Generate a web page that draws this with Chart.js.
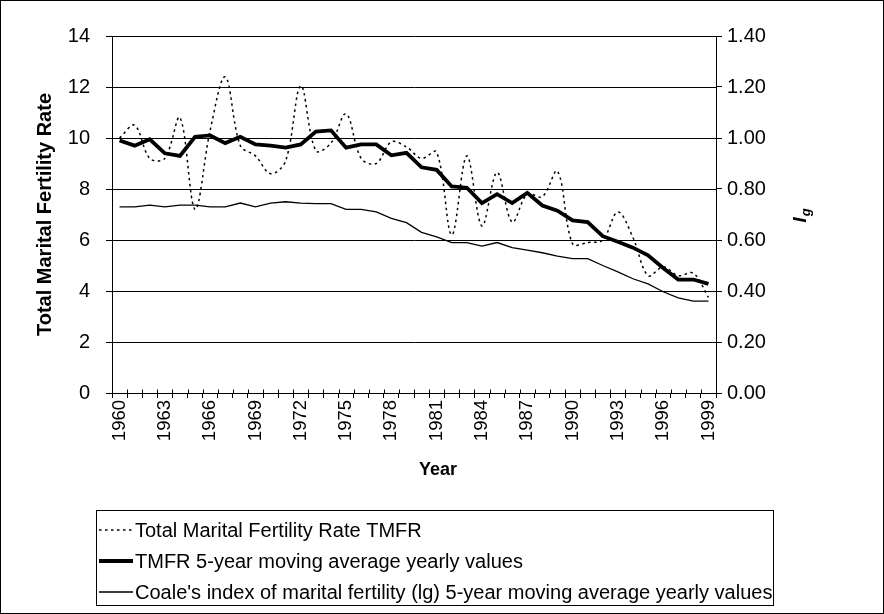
<!DOCTYPE html>
<html><head><meta charset="utf-8">
<script src="https://cdn.jsdelivr.net/npm/chart.js@4/dist/chart.umd.min.js"></script>
<style>html,body{margin:0;padding:0;background:#fff;} #wrap{position:relative;width:884px;height:614px;}</style>
</head><body><div id="wrap"><canvas id="c" width="884" height="614"></canvas></div>
<script>
const years = ['1960','1961','1962','1963','1964','1965','1966','1967','1968','1969',
  '1970','1971','1972','1973','1974','1975','1976','1977','1978','1979',
  '1980','1981','1982','1983','1984','1985','1986','1987','1988','1989',
  '1990','1991','1992','1993','1994','1995','1996','1997','1998','1999'];
const shownYears = ['1960','1963','1966','1969','1972','1975','1978','1981','1984','1987','1990','1993','1996','1999'];
const tmfr = [10.0,10.5,9.2,9.2,10.8,7.2,10.3,12.4,9.7,9.3,
  8.6,9.1,12.05,9.5,9.8,10.95,9.2,9.0,9.85,9.65,
  9.2,9.45,6.2,9.3,6.55,8.65,6.7,7.8,7.7,8.7,
  5.85,5.9,6.0,7.1,6.1,4.6,4.95,4.6,4.7,3.75];
const tmfrMA = [9.9,9.7,9.95,9.4,9.3,10.05,10.1,9.8,10.05,9.75,
  9.7,9.62,9.75,10.25,10.3,9.62,9.75,9.75,9.32,9.42,
  8.85,8.75,8.1,8.05,7.45,7.8,7.45,7.85,7.35,7.15,
  6.77,6.7,6.15,5.93,5.7,5.4,4.9,4.45,4.45,4.28];
const igMA = [0.73,0.73,0.737,0.73,0.737,0.737,0.73,0.73,0.745,0.73,
  0.745,0.75,0.745,0.743,0.743,0.72,0.72,0.71,0.685,0.668,
  0.63,0.612,0.59,0.59,0.576,0.59,0.57,0.56,0.55,0.537,
  0.527,0.527,0.50,0.475,0.448,0.428,0.397,0.373,0.36,0.36];
const leftTicks = [0,2,4,6,8,10,12,14];
const rightTicks = [0,0.2,0.4,0.6,0.8,1.0,1.2,1.4];
const seriesLabels = ['Total Marital Fertility Rate TMFR','TMFR 5-year moving average yearly values',"Coale's index of marital fertility (lg) 5-year moving average yearly values"];
const xTitle = 'Year';
const yTitle = 'Total Marital Fertility Rate';
const y1Title = ['I','g'];

const FAM = '"Liberation Sans", Arial, sans-serif';

const decor = {
  id: 'decor',
  beforeDraw(chart){
    const c = chart.ctx;
    c.save(); c.fillStyle = '#fff'; c.fillRect(0,0,chart.width,chart.height); c.restore();
  },
  afterDraw(chart){
    const c = chart.ctx;
    const xs = chart.scales.x;
    c.save();
    c.strokeStyle = '#000'; c.lineWidth = 1; c.setLineDash([]);
    // upward half of x tick marks (ticks cross the axis)
    const yb = Math.round(xs.top) + 0.5;
    c.beginPath();
    for (let i = 0; i <= years.length; i++) {
      const px = Math.round(xs.getPixelForValue(i - 0.5)) + 0.5;
      c.moveTo(px, yb); c.lineTo(px, yb - 4);
    }
    c.stroke();
    // outer frame
    c.strokeRect(0.5, 0.5, 883, 613);
    // x axis title
    c.fillStyle = '#000';
    c.font = 'bold 18px ' + FAM; c.textAlign = 'center'; c.textBaseline = 'middle';
    c.fillText(xTitle, 438, 470);
    // legend box
    c.strokeRect(96.5, 510.5, 677, 95);
    const rows = [530, 561, 592];
    c.font = '20px ' + FAM; c.textAlign = 'left'; c.textBaseline = 'middle';
    chart.data.datasets.forEach((ds, i) => {
      const y = rows[i];
      c.save();
      c.beginPath();
      c.lineWidth = ds.borderWidth; c.strokeStyle = ds.borderColor;
      c.setLineDash(ds.borderDash || []);
      c.moveTo(99, y); c.lineTo(133, y); c.stroke();
      c.restore();
      c.fillText(ds.label, 135, y + 1);
    });
    // right axis title I_g
    c.translate(800, 216); c.rotate(-Math.PI/2);
    c.font = 'italic bold 19px ' + FAM;
    const w1 = c.measureText(y1Title[0]).width;
    c.font = 'italic bold 13px ' + FAM;
    const w2 = c.measureText(y1Title[1]).width;
    const x0 = -(w1 + w2)/2;
    c.textBaseline = 'alphabetic';
    c.font = 'italic bold 19px ' + FAM;
    c.fillText(y1Title[0], x0, 6);
    c.font = 'italic bold 13px ' + FAM;
    c.fillText(y1Title[1], x0 + w1 + 1, 10);
    c.restore();
  }
};

new Chart(document.getElementById('c'), {
  type: 'line',
  data: { labels: years, datasets: [
    {label: seriesLabels[0], data: tmfr, borderColor:'#000', borderWidth:1.5, borderDash:[2.5,3.5], tension:0.35, pointRadius:0, yAxisID:'y', fill:false},
    {label: seriesLabels[1], data: tmfrMA, borderColor:'#000', borderWidth:3.8, tension:0, pointRadius:0, yAxisID:'y', fill:false},
    {label: seriesLabels[2], data: igMA, borderColor:'#000', borderWidth:1.3, tension:0, pointRadius:0, yAxisID:'y1', fill:false}
  ]},
  options: {
    responsive:false, animation:false, devicePixelRatio:1,
    layout:{padding:{left:0,right:0,top:36,bottom:141}},
    plugins:{legend:{display:false}, tooltip:{enabled:false}},
    scales:{
      x:{type:'category', offset:true,
        grid:{offset:true, drawOnChartArea:false, drawTicks:true, tickLength:5, color:'#000'},
        border:{display:true,color:'#000',width:1},
        ticks:{autoSkip:false, maxRotation:90, minRotation:90, padding:2, color:'#000', font:{family:FAM, size:18.5},
          callback:function(v){const l=this.getLabelForValue(v); return shownYears.includes(l)?l:'';}},
        title:{display:false, text:xTitle},
        afterFit:s=>{s.height=80;}},
      y:{position:'left', min:0, max:14,
        afterBuildTicks:s=>{s.ticks = leftTicks.map(v=>({value:v}));},
        ticks:{padding:16, color:'#000', font:{family:FAM, size:20}},
        grid:{color:'#000', lineWidth:1, tickLength:6},
        border:{display:true,color:'#000',width:1},
        title:{display:true, text:yTitle, color:'#000', font:{family:FAM, size:20, weight:'bold'}, padding:{top:33,bottom:0}},
        afterFit:s=>{s.width=112;}},
      y1:{position:'right', min:0, max:1.4,
        afterBuildTicks:s=>{s.ticks = rightTicks.map(v=>({value:v}));},
        ticks:{padding:5, color:'#000', font:{family:FAM, size:20}, callback:v=>Number(v).toFixed(2)},
        grid:{drawOnChartArea:false, tickLength:6, color:'#000'},
        border:{display:true,color:'#000',width:1},
        afterFit:s=>{s.width=168;}}
    }
  },
  plugins:[decor]
});
</script></body></html>
